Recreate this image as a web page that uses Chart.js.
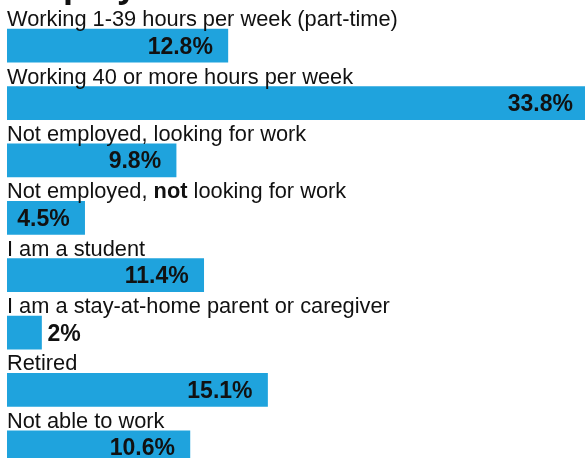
<!DOCTYPE html>
<html>
<head>
<meta charset="utf-8">
<script src="https://cdn.jsdelivr.net/npm/chart.js@4"></script>
<style>
  html, body { margin: 0; padding: 0; background: #fff; overflow: hidden; }
  #wrap { position: absolute; left: 0; top: -40px; width: 585px; height: 520px; }
</style>
</head>
<body>
<div id="wrap"><canvas id="employmentChart"></canvas></div>
<script>
  const chartTitle = 'Employment Status';
  // **word** = bold part of the label
  const categories = [
      'Working 1-39 hours per week (part-time)',
      'Working 40 or more hours per week',
      'Not employed, looking for work',
      'Not employed, **not** looking for work',
      'I am a student',
      'I am a stay-at-home parent or caregiver',
      'Retired',
      'Not able to work'
  ];
  const percentValues = [12.8, 33.8, 9.8, 4.5, 11.4, 2, 15.1, 10.6];
  const valueLabels = ['12.8%', '33.8%', '9.8%', '4.5%', '11.4%', '2%', '15.1%', '10.6%'];

  const FONT = 'Arial, "Liberation Sans", sans-serif';

  // Labels above each bar + value text inside/outside bar
  const barLabels = {
      id: 'barLabels',
      afterDatasetsDraw(chart) {
          const ctx = chart.ctx;
          const area = chart.chartArea;
          const bars = chart.getDatasetMeta(0).data;
          ctx.save();
          ctx.textBaseline = 'alphabetic';

          // title (mostly scrolled off the top)
          ctx.fillStyle = '#111';
          ctx.font = 'bold 36px ' + FONT;
          ctx.textAlign = 'left';
          ctx.fillText(chartTitle, 7, 37);

          bars.forEach((bar, i) => {
              // category label, with bold pieces
              let x = area.left;
              const y = bar.y - 19.5;
              categories[i].split('**').forEach((part, j) => {
                  ctx.font = (j % 2 ? 'bold ' : '') + '21.8px ' + FONT;
                  ctx.fillStyle = '#111';
                  ctx.textAlign = 'left';
                  ctx.fillText(part, x, y);
                  x += ctx.measureText(part).width;
              });

              // value label
              ctx.font = 'bold 23px ' + FONT;
              ctx.fillStyle = '#111';
              const w = ctx.measureText(valueLabels[i]).width;
              const barW = bar.x - bar.base;
              if (w + 24 < barW) {
                  ctx.textAlign = 'right';
                  ctx.fillText(valueLabels[i], Math.min(bar.x, area.right + 3) - 15, bar.y + 8);
              } else {
                  ctx.textAlign = 'left';
                  ctx.fillText(valueLabels[i], bar.x + 6, bar.y + 8);
              }
          });
          ctx.restore();
      }
  };

  const ctx = document.getElementById('employmentChart').getContext('2d');
  const employmentChart = new Chart(ctx, {
      type: 'bar',
      data: {
          labels: categories,
          datasets: [{
              label: 'Employment',
              data: percentValues,
              backgroundColor: '#1fa3dd',
              borderWidth: 0,
              barThickness: 33
          }]
      },
      options: {
          indexAxis: 'y',
          responsive: true,
          maintainAspectRatio: false,
          animation: false,
          layout: {
              padding: { top: 57, bottom: 4, left: 7, right: 0 }
          },
          scales: {
              x: { display: false, min: 0, max: 33.5 },
              y: { display: false }
          },
          plugins: {
              legend: { display: false },
              tooltip: { enabled: false }
          }
      },
      plugins: [barLabels]
  });
</script>
</body>
</html>
